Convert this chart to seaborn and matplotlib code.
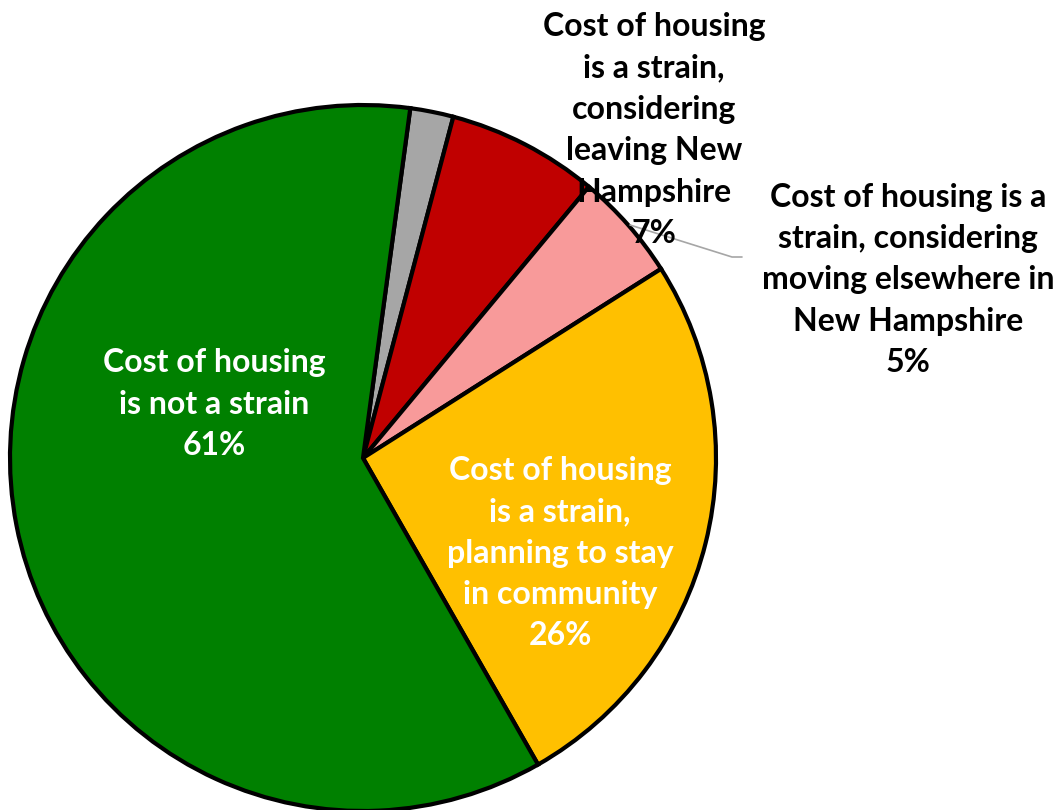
import matplotlib
matplotlib.use("Agg")
import matplotlib.pyplot as plt
import seaborn as sns

sns.set_theme(style="white")
plt.rcParams["font.family"] = ["Lato", "DejaVu Sans"]

# Survey shares, clockwise from the small unlabeled slice
categories = [
    "No answer",
    "Cost of housing is a strain, considering leaving New Hampshire",
    "Cost of housing is a strain, considering moving elsewhere in New Hampshire",
    "Cost of housing is a strain, planning to stay in community",
    "Cost of housing is not a strain",
]
values = [2, 7, 5, 26, 61]
colors = ["#a6a6a6", "#c00000", "#f89a9a", "#ffc000", "#008000"]

W, H = 1061, 810
fig = plt.figure(figsize=(W / 100, H / 100), dpi=100)
ax = fig.add_axes([0, 0, 1, 1])

cx, cy, r = 363, H - 458, 353
ax.pie(values, colors=colors, startangle=82.3, counterclock=False,
       center=(cx, cy), radius=r, frame=True,
       wedgeprops=dict(edgecolor="black", linewidth=3.0))
ax.set_xlim(0, W)
ax.set_ylim(0, H)
ax.set_aspect("equal")
ax.axis("off")

fs = 23
lbl = dict(ha="center", va="center", fontsize=fs, fontweight="bold",
           linespacing=1.52)

ax.text(214, H - 404, f"Cost of housing\nis not a strain\n{values[4]}%",
        color="white", **lbl)
ax.text(560, H - 553,
        f"Cost of housing\nis a strain,\nplanning to stay\nin community\n{values[3]}%",
        color="white", **lbl)

# leader line for the small pink slice
ax.plot([630, 732, 742], [H - 225, H - 257, H - 257], color="#a6a6a6",
        linewidth=1.2, zorder=3)

ax.text(654, H - 130,
        f"Cost of housing\nis a strain,\nconsidering\nleaving New\nHampshire\n{values[1]}%",
        color="black", zorder=4, **lbl)
ax.text(908, H - 280,
        f"Cost of housing is a\nstrain, considering\nmoving elsewhere in\nNew Hampshire\n{values[2]}%",
        color="black", zorder=4, **lbl)

fig.savefig("out.png", dpi=100)
